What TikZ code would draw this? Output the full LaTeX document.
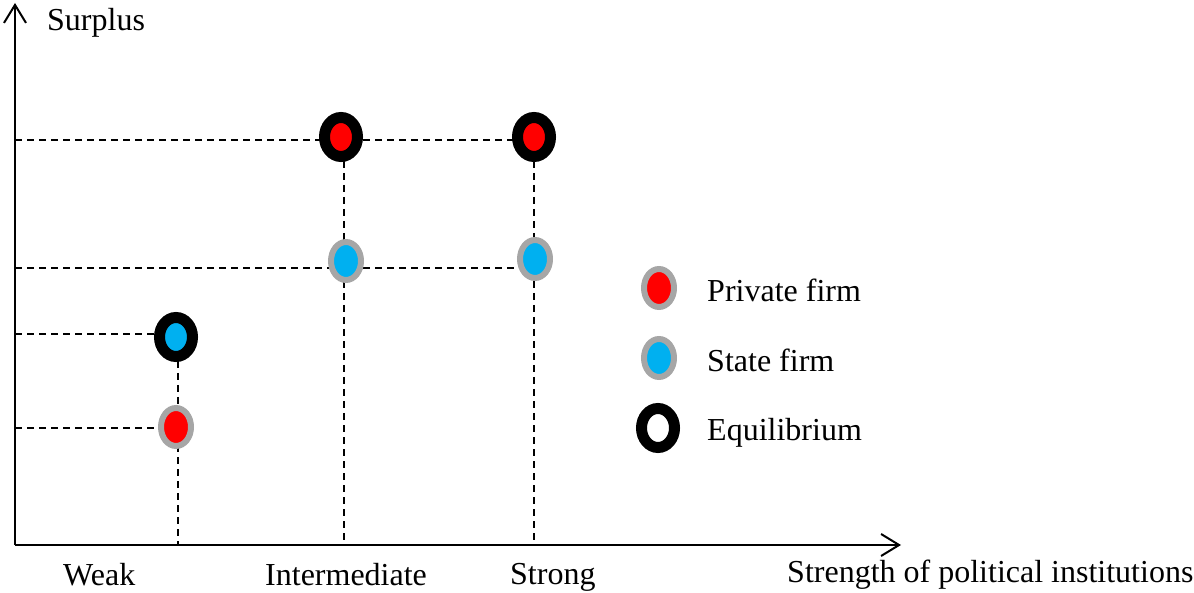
\documentclass[tikz,border=0pt]{standalone}
\usepackage{fontspec}
\setmainfont{Liberation Serif}
\usetikzlibrary{arrows.meta,shapes.geometric,backgrounds}
\definecolor{privred}{HTML}{FF0000}
\definecolor{stateblue}{HTML}{00B0F0}
\definecolor{ringgray}{HTML}{A6A6A6}
\begin{document}
\begin{tikzpicture}[x=1pt,y=-1pt,
  axisline/.style={line width=2pt,-{Straight Barb[length=18pt,width=22pt,line width=2pt]}},
  guide/.style={line width=1.4pt,dash pattern=on 7pt off 5pt},
  firm/.style={ellipse,inner sep=0pt,draw=ringgray,line width=6pt,minimum width=30pt,minimum height=38pt},
  eqm/.style={ellipse,inner sep=0pt,draw=black,line width=11pt,minimum width=33pt,minimum height=39pt},
  lbl/.style={anchor=base west,inner sep=0pt,font=\fontsize{32}{38}\selectfont}]
\useasboundingbox (0,0) rectangle (1194,593);
% axes
\coordinate (origin) at (15,545);
\coordinate (ytip) at (15,3);
\coordinate (xtip) at (901,545);
\draw[axisline] (origin) -- (ytip);
\draw[axisline] (origin) -- (xtip);
% points
\node[eqm,fill=privred] (ipriv) at (341,137) {};
\node[eqm,fill=privred] (spriv) at (534,137) {};
\node[firm,fill=stateblue] (istate) at (346,261) {};
\node[firm,fill=stateblue] (sstate) at (535,259) {};
\node[eqm,fill=stateblue] (wstate) at (176,337) {};
\node[firm,fill=privred] (wpriv) at (176,427) {};
% guide line end points
\coordinate (ya) at (15,140);
\coordinate (yb) at (15,268);
\coordinate (yc) at (15,334);
\coordinate (yd) at (15,428);
\coordinate (xa) at (344,545);
\coordinate (xb) at (534,545);
\coordinate (xc) at (178,545);
\begin{scope}[on background layer]
\draw[guide] (ya) -- (ya -| spriv.center);
\draw[guide] (yb) -- (yb -| spriv.center);
\draw[guide] (yc) -- (yc -| wstate.center);
\draw[guide] (yd) -- (yd -| wpriv.center);
\draw[guide] (xa |- ipriv.center) -- (xa);
\draw[guide] (xb |- spriv.center) -- (xb);
\draw[guide] (xc |- wstate.center) -- (xc);
\end{scope}
% legend
\node[firm,fill=privred] (lpriv) at (659,288) {};
\node[firm,fill=stateblue] (lstate) at (659,358) {};
\node[eqm,fill=white] (leqm) at (658,428) {};
\node[lbl] (tpriv) at (707,302) {Private firm};
\node[lbl] (tstate) at (707,372) {State firm};
\node[lbl] (teqm) at (707,440) {Equilibrium};
% axis labels
\node[lbl] (tsurplus) at (47,31) {Surplus};
\node[lbl] (tweak) at (63,585) {Weak};
\node[lbl] (tinter) at (265,585) {Intermediate};
\node[lbl] (tstrong) at (510,584) {Strong};
\node[lbl] (tstrength) at (787,582) {Strength of political institutions};
\end{tikzpicture}
\end{document}
